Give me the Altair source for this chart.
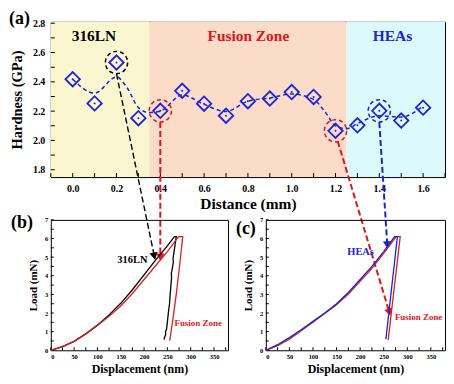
import altair as alt
import pandas as pd

FONT = "Liberation Serif"
BLUE = "#1b24d6"
RED = "#e3141c"
BLACK = "#000000"

# ---------------- panel (a) data ----------------
dist = [0.0, 0.1, 0.2, 0.3, 0.4, 0.5, 0.6, 0.7, 0.8, 0.9, 1.0, 1.1, 1.2, 1.3, 1.4, 1.5, 1.6]
hard = [2.418, 2.253, 2.532, 2.152, 2.202, 2.339, 2.251, 2.169, 2.268, 2.286, 2.330,
        2.297, 2.066, 2.103, 2.202, 2.136, 2.224]
fit_x = [0.0, 0.1, 0.2, 0.25, 0.3, 0.35, 0.4, 0.5, 0.6, 0.7, 0.8, 0.9, 1.0, 1.1,
         1.15, 1.2, 1.25, 1.3, 1.4, 1.5, 1.6]
fit_y = [2.418, 2.323, 2.433, 2.356, 2.224, 2.19, 2.20, 2.31, 2.246, 2.198, 2.268,
         2.29, 2.317, 2.28, 2.2, 2.10, 2.08, 2.115, 2.169, 2.16, 2.235]
band_start = [-0.1, 0.35, 1.25]
band_end = [0.35, 1.25, 1.7]
band_color = ["#faf6d0", "#fadcc8", "#dcfafc"]
region_names = ["316LN", "Fusion Zone", "HEAs"]
region_x = [0.097, 0.802, 1.46]
region_color = [BLACK, RED, BLUE]
circ_x = [0.2, 0.4, 1.2, 1.4]
circ_y = [2.532, 2.202, 2.066, 2.202]
circ_color = [BLACK, RED, RED, BLUE]

# ---------------- panels (b), (c) data ----------------
b_black_x = [0, 25, 50, 75, 100, 125, 150, 175, 200, 225, 250, 265, 269, 265.5, 262,
             262.8, 260, 258.5, 259, 256, 254.8, 252, 250, 248, 246, 246.5, 244, 243]
b_black_y = [0, 0.2, 0.48, 0.88, 1.35, 1.9, 2.52, 3.25, 4.05, 4.85, 5.6, 6.1, 6.1, 5.5,
             4.9, 4.75, 4.3, 4.15, 3.9, 3.0, 2.55, 2.0, 1.5, 1.1, 1.0, 0.85, 0.7, 0.57]
b_red_x = [0, 25, 50, 75, 100, 125, 150, 175, 200, 225, 250, 274, 283, 276, 269, 262, 255]
b_red_y = [0, 0.2, 0.48, 0.88, 1.33, 1.83, 2.38, 3.05, 3.8, 4.55, 5.3, 6.1, 6.1, 4.5,
           3.0, 1.7, 0.52]
c_blue_x = [0, 25, 50, 75, 100, 125, 150, 175, 200, 225, 250, 273, 279, 254.7]
c_blue_y = [0, 0.3, 0.68, 1.1, 1.55, 2.0, 2.5, 3.1, 3.8, 4.5, 5.3, 6.1, 6.1, 0.6]
c_red_x = [0, 25, 50, 75, 100, 125, 150, 175, 200, 225, 250, 276.5, 285, 259.5]
c_red_y = [0, 0.25, 0.6, 1.05, 1.5, 1.97, 2.45, 3.02, 3.7, 4.4, 5.2, 6.1, 6.1, 0.55]

# ---------------- layout ----------------
WA, HA = 396, 156
WB, WC, HB = 178, 180, 131
VSP, HSP = 43, 38
XA = [-0.1, 1.7]
YA = [1.75, 2.81]
XB = [0, 380]
YB = [0, 7]


def to_a(px, py):
    return (XA[0] + px / WA * (XA[1] - XA[0]), YA[1] - py / HA * (YA[1] - YA[0]))


def b_px(d, load):
    return (d / XB[1] * WB, HA + VSP + (YB[1] - load) / YB[1] * HB)


def c_px(d, load):
    return (WB + HSP + d / XB[1] * WC, HA + VSP + (YB[1] - load) / YB[1] * HB)


tb = to_a(*b_px(222, 5.05))
tr1 = to_a(*b_px(235, 5.0))
tblu = to_a(*c_px(257.6, 5.66))
tr2 = to_a(*c_px(262, 2.04))
arrows = pd.DataFrame({
    "x": [0.2, 0.4, 1.21, 1.4],
    "y": [2.455, 2.125, 1.995, 2.125],
    "x2": [tb[0], 0.4, tr2[0], tblu[0]],
    "y2": [tb[1], tr1[1], tr2[1], tblu[1]],
    "c": [BLACK, RED, RED, BLUE],
    "w": [1.4, 2.0, 2.0, 2.0],
})
import math
angles = []
for i in range(4):
    dx = (arrows.x2[i] - arrows.x[i]) / (XA[1] - XA[0]) * WA
    dy = (arrows.y[i] - arrows.y2[i]) / (YA[1] - YA[0]) * HA
    angles.append((360 - math.degrees(math.atan2(dx, dy))) % 360)
arrows["ang"] = angles

xs_a = alt.Scale(domain=XA, nice=False, zero=False)
ys_a = alt.Scale(domain=YA, nice=False, zero=False)
ax_ax = alt.Axis(values=[0, 0.2, 0.4, 0.6, 0.8, 1.0, 1.2, 1.4, 1.6], format=".1f",
                 labelFontSize=10, labelPadding=6, title="Distance (mm)",
                 titleFontSize=15.5, titlePadding=4)
ax_ay = alt.Axis(values=[1.8, 2.0, 2.2, 2.4, 2.6, 2.8], format=".1f",
                 labelFontSize=10, labelPadding=6, title="Hardness (GPa)",
                 titleFontSize=14.5, titlePadding=8)

X = lambda f="x": alt.X(f"{f}:Q", scale=xs_a, axis=ax_ax)
Y = lambda f="y": alt.Y(f"{f}:Q", scale=ys_a, axis=ax_ay)

bands = alt.Chart(pd.DataFrame({"x": band_start, "x2": band_end, "c": band_color})).mark_rect().encode(
    x=X(), x2="x2:Q", color=alt.Color("c:N", scale=None))

tick_vals = [round(-0.1 + 0.1 * i, 2) for i in range(19)]
ticks_ax = alt.Chart(pd.DataFrame({"x": tick_vals})).mark_rule(color="black").encode(
    x=X(), y=alt.value(HA), y2=alt.value(HA - 4))
ytick_vals = [round(1.8 + 0.1 * i, 2) for i in range(11)]
ticks_ay = alt.Chart(pd.DataFrame({"y": ytick_vals})).mark_rule(color="black").encode(
    y=Y(), x=alt.value(0), x2=alt.value(4))

fit = alt.Chart(pd.DataFrame({"x": fit_x, "y": fit_y})).mark_line(
    color=BLUE, strokeDash=[4, 3], strokeWidth=1.5, interpolate="monotone").encode(x=X(), y=Y())

pts = pd.DataFrame({"x": dist, "y": hard})
diamonds = alt.Chart(pts).mark_point(shape="diamond", filled=False, size=210,
                                      strokeWidth=1.8, color=BLUE, opacity=1).encode(x=X(), y=Y())
dots = alt.Chart(pts).mark_point(shape="circle", filled=True, size=4, color=BLUE,
                                  opacity=1).encode(x=X(), y=Y())

circles = alt.Chart(pd.DataFrame({"x": circ_x, "y": circ_y, "c": circ_color})).mark_point(
    shape="circle", filled=False, size=500, strokeWidth=1.5, strokeDash=[4, 3], opacity=1).encode(
    x=X(), y=Y(), color=alt.Color("c:N", scale=None))

arrow_lines = alt.Chart(arrows).mark_rule(strokeDash=[6, 3], clip=False).encode(
    x=X(), y=Y(), x2="x2:Q", y2="y2:Q", color=alt.Color("c:N", scale=None),
    strokeWidth=alt.StrokeWidth("w:Q", scale=None))
heads = alt.Chart(arrows).mark_point(shape="triangle-down", filled=True, size=70,
                                      opacity=1, clip=False).encode(
    x=X("x2"), y=Y("y2"), color=alt.Color("c:N", scale=None), angle=alt.Angle("ang:Q", scale=None))

region_lbl = alt.Chart(pd.DataFrame({"x": region_x, "y": [2.714] * 3, "t": region_names,
                                      "c": region_color})).mark_text(
    font=FONT, fontWeight="bold", fontSize=15.5).encode(
    x=X(), y=Y(), text="t:N", color=alt.Color("c:N", scale=None))

tag_a = alt.Chart(pd.DataFrame({"t": ["(a)"]})).mark_text(
    font=FONT, fontWeight="bold", fontSize=18, align="left", baseline="middle").encode(
    x=alt.value(-42), y=alt.value(-3), text="t:N")

panel_a = alt.layer(bands, ticks_ax, ticks_ay, fit, diamonds, dots, circles,
                    arrow_lines, heads, region_lbl, tag_a).properties(width=WA, height=HA)


# ---------------- (b) / (c) ----------------
def curve_panel(series, width, tag, tag_x, tag_y, labels):
    xs = alt.Scale(domain=XB, nice=False, zero=False)
    ys = alt.Scale(domain=YB, nice=False, zero=False)
    axx = alt.Axis(values=list(range(0, 351, 50)), labelFontSize=6.5, labelPadding=3,
                   title="Displacement (nm)", titleFontSize=12, titlePadding=4)
    axy = alt.Axis(values=list(range(0, 8)), labelFontSize=6.5, labelPadding=3,
                   title="Load (mN)", titleFontSize=11, titlePadding=6)
    XX = alt.X("x:Q", scale=xs, axis=axx)
    YY = alt.Y("y:Q", scale=ys, axis=axy)
    rows = []
    for name, xv, yv, col in series:
        for i, (a, b) in enumerate(zip(xv, yv)):
            rows.append({"s": name, "x": a, "y": b, "i": i, "c": col})
    df = pd.DataFrame(rows)
    lines = alt.Chart(df).mark_line(strokeWidth=1.3).encode(
        x=XX, y=YY, detail="s:N", order="i:Q", color=alt.Color("c:N", scale=None))
    tx = alt.Chart(pd.DataFrame({"x": list(range(0, 376, 25))})).mark_rule(color="black").encode(
        x=XX, y=alt.value(HB), y2=alt.value(HB - 3))
    ty = alt.Chart(pd.DataFrame({"y": [i * 0.5 for i in range(15)]})).mark_rule(color="black").encode(
        y=YY, x=alt.value(0), x2=alt.value(3))
    lab = alt.Chart(pd.DataFrame(labels)).mark_text(font=FONT, fontWeight="bold").encode(
        x=XX, y=YY, text="t:N", color=alt.Color("c:N", scale=None),
        size=alt.Size("fs:Q", scale=None))
    tg = alt.Chart(pd.DataFrame({"t": [tag]})).mark_text(
        font=FONT, fontWeight="bold", fontSize=18, align="left", baseline="middle").encode(
        x=alt.value(tag_x), y=alt.value(tag_y), text="t:N")
    return alt.layer(tx, ty, lines, lab, tg).properties(width=width, height=HB)


panel_b = curve_panel(
    [("316LN", b_black_x, b_black_y, BLACK), ("FZ", b_red_x, b_red_y, "#d42024")],
    WB, "(b)", -40, 3,
    {"x": [175, 316], "y": [4.87, 1.45], "t": ["316LN", "Fusion Zone"],
     "c": [BLACK, RED], "fs": [10.5, 9]})
panel_c = curve_panel(
    [("FZ", c_red_x, c_red_y, "#d42024"), ("HEAs", c_blue_x, c_blue_y, BLUE)],
    WC, "(c)", -30, 9,
    {"x": [201, 324], "y": [5.27, 1.78], "t": ["HEAs", "Fusion Zone"],
     "c": [BLUE, RED], "fs": [10.5, 9]})

bottom = alt.hconcat(panel_b, panel_c, spacing=HSP, bounds="flush")
chart = alt.vconcat(panel_a, bottom, spacing=VSP, bounds="flush").properties(
    padding=0, background="white"
).configure_axis(
    labelFont=FONT, titleFont=FONT, labelFontWeight="bold", titleFontWeight="bold",
    labelColor="black", titleColor="black", grid=False, domain=False, ticks=False, tickSize=0
).configure_view(stroke="black", strokeWidth=1)

chart.save("out.html", embed_options={"renderer": "svg", "actions": False})
